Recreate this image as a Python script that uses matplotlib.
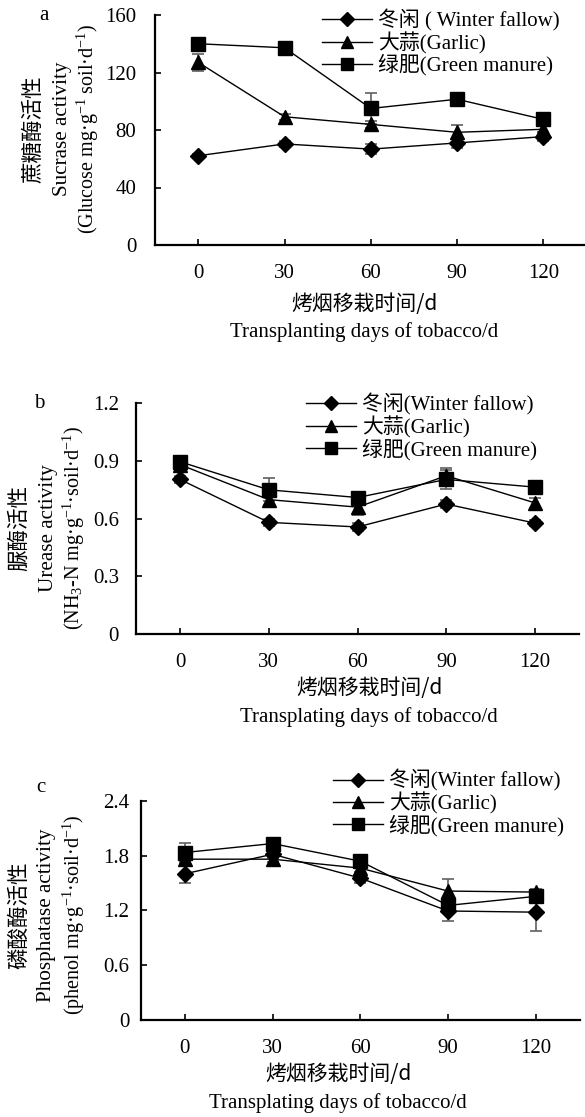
import matplotlib
matplotlib.use("Agg")
import matplotlib.pyplot as plt
from matplotlib.lines import Line2D

plt.rcParams['font.family'] = ['Liberation Serif', 'Noto Sans CJK SC']
plt.rcParams['mathtext.fontset'] = 'custom'
plt.rcParams['mathtext.rm'] = 'Liberation Serif'
plt.rcParams['mathtext.it'] = 'Liberation Serif:italic'
plt.rcParams['mathtext.bf'] = 'Liberation Serif:bold'

days = ['0', '30', '60', '90', '120']
labels_a = ['冬闲 ( Winter fallow)', '大蒜(Garlic)', '绿肥(Green manure)']
labels_bc = ['冬闲(Winter fallow)', '大蒜(Garlic)', '绿肥(Green manure)']

# Sucrase
suc_winter = [62.1, 70.3, 66.7, 71.0, 75.4]
suc_winter_err = [1.5, 2.0, 3.5, 3.5, 3.0]
suc_garlic = [127.0, 89.2, 83.9, 78.4, 80.5]
suc_garlic_err = [6.0, 2.0, 2.5, 5.0, 2.0]
suc_green = [140.0, 137.2, 95.0, 101.4, 87.4]
suc_green_err = [2.0, 3.5, 11.0, 2.0, 2.0]

# Urease
ure_winter = [0.803, 0.580, 0.556, 0.675, 0.576]
ure_winter_err = [0.02, 0.02, 0.02, 0.02, 0.015]
ure_garlic = [0.880, 0.698, 0.659, 0.822, 0.681]
ure_garlic_err = [0.03, 0.03, 0.04, 0.04, 0.025]
ure_green = [0.895, 0.749, 0.709, 0.803, 0.763]
ure_green_err = [0.03, 0.06, 0.02, 0.05, 0.02]

# Phosphatase
pho_winter = [1.60, 1.814, 1.553, 1.193, 1.180]
pho_winter_err = [0.10, 0.04, 0.05, 0.11, 0.21]
pho_garlic = [1.76, 1.76, 1.662, 1.411, 1.40]
pho_garlic_err = [0.05, 0.03, 0.04, 0.13, 0.03]
pho_green = [1.833, 1.931, 1.738, 1.254, 1.353]
pho_green_err = [0.10, 0.04, 0.03, 0.04, 0.05]

W, H = 585, 1117
fig = plt.figure(figsize=(W / 100, H / 100), dpi=100)

serif = ['Liberation Serif', 'Noto Sans CJK SC']
cjk = ['Noto Sans CJK SC', 'Liberation Serif']


def fx(px):
    return px / W


def fy(py):
    return 1 - py / H


def panel(box, series, errs, ylim, yticks, yticklabels, ypad, letter, letter_xy,
          ylab_lines, ylab_x, ylab_cy, labels, leg_x, leg_midy, leg_spacing,
          xlab_x, xlab_y, xlab2):
    left, right, top, bottom = box
    ax = fig.add_axes([fx(left), fy(bottom), (right - left) / W, (bottom - top) / H])
    x = list(range(len(days)))
    markers = ['D', '^', 's']
    sizes = [8, 9.5, 9.5]
    handles = []
    for s, e, m, ms in zip(series, errs, markers, sizes):
        ax.errorbar(x, s, yerr=e, fmt='none', ecolor='#606060', elinewidth=1.2,
                    capsize=4, capthick=1.2, zorder=2)
        ax.plot(x, s, color='black', lw=1.0, marker=m, ms=ms,
                markerfacecolor='black', markeredgecolor='black', zorder=3)
        handles.append(Line2D([], [], color='black', lw=1.0, marker=m, ms=ms - 1))
    ax.set_xlim(-0.5, 4.5)
    ax.set_ylim(*ylim)
    ax.set_xticks(x)
    ax.set_xticklabels(days)
    ax.set_yticks(yticks)
    ax.set_yticklabels(yticklabels)
    for sp in ['top', 'right']:
        ax.spines[sp].set_visible(False)
    for sp in ['left', 'bottom']:
        ax.spines[sp].set_linewidth(1.6)
    ax.tick_params(axis='both', direction='in', length=4.5, width=1.2, labelsize=15)
    ax.tick_params(axis='x', pad=14)
    ax.tick_params(axis='y', pad=ypad)
    fam = [cjk, serif, serif]
    fs = [15.5, 15.2, 14.5]
    for txt, xp, f, s in zip(ylab_lines, ylab_x, fam, fs):
        fig.text(fx(xp), fy(ylab_cy), txt, rotation=90, ha='center', va='center',
                 fontsize=s, family=f)
    fig.text(fx(letter_xy[0]), fy(letter_xy[1]), letter, ha='center',
             va='baseline', fontsize=15, family=serif)
    fig.legend(handles, labels, loc='center left',
               bbox_to_anchor=(fx(leg_x), fy(leg_midy)),
               frameon=False, handlelength=2.4,
               handletextpad=0.3, borderpad=0, borderaxespad=0,
               labelspacing=leg_spacing, prop={'family': serif, 'size': 15})
    fig.text(fx(xlab_x), fy(xlab_y[0]), '烤烟移栽时间/d', ha='center', va='center',
             fontsize=15, family=cjk)
    fig.text(fx(xlab_x), fy(xlab_y[1]), xlab2, ha='center',
             va='center', fontsize=15, family=serif)
    return ax


# Panel a
panel((155.2, 586.4, 15, 245),
      [suc_winter, suc_garlic, suc_green],
      [suc_winter_err, suc_garlic_err, suc_green_err],
      (0, 160), [0, 40, 80, 120, 160], ['0', '40', '80', '120', '160'], 13.5,
      'a', (44, 20),
      ['蔗糖酶活性', 'Sucrase activity',
       '(Glucose mg·g$^{-1}$ soil·d$^{-1}$)'],
      [33, 62, 88], 129, labels_a, 322, 42.7, 0.01,
      364, (303.5, 332), 'Transplanting days of tobacco/d')

# Panel b
panel((135.6, 579.4, 403, 634),
      [ure_winter, ure_garlic, ure_green],
      [ure_winter_err, ure_garlic_err, ure_green_err],
      (0, 1.2), [0, 0.3, 0.6, 0.9, 1.2], ['0', '0.3', '0.6', '0.9', '1.2'], 12,
      'b', (39, 408),
      ['脲酶活性', 'Urease activity',
       '(NH$_3$-N mg·g$^{-1}$·soil·d$^{-1}$)'],
      [19, 48, 74], 528, labels_bc, 306, 426.7, 0.02,
      369, (688, 716.7), 'Transplating days of tobacco/d')

# Panel c
panel((141, 579.6, 800.7, 1020),
      [pho_winter, pho_garlic, pho_green],
      [pho_winter_err, pho_garlic_err, pho_green_err],
      (0, 2.4), [0, 0.6, 1.2, 1.8, 2.4], ['0', '0.6', '1.2', '1.8', '2.4'], 8.5,
      'c', (41, 792),
      ['磷酸酶活性', 'Phosphatase activity',
       '(phenol mg·g$^{-1}$·soil·d$^{-1}$)'],
      [19, 47, 74], 915, labels_bc, 333, 803, 0.01,
      338, (1074, 1103), 'Transplating days of tobacco/d')

fig.savefig('out.png', dpi=100)
